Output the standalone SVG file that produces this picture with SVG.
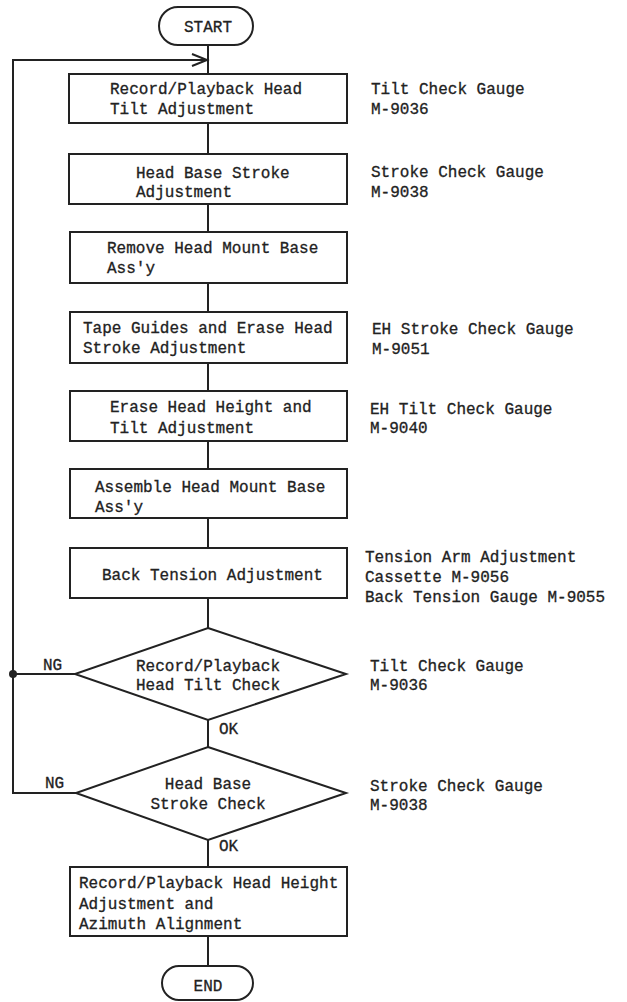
<svg xmlns="http://www.w3.org/2000/svg" width="627" height="1002" viewBox="0 0 627 1002">
<style>
.s{fill:#fff;stroke:#222;stroke-width:2}
.c{fill:none;stroke:#222;stroke-width:2}
text{font-family:"Liberation Mono","Courier New",monospace;font-size:16px;fill:#222;stroke:#222;stroke-width:0.3}
.m{text-anchor:middle}
</style>
<rect width="627" height="1002" fill="#fff"/>
<g id="connectors">
<path class="c" d="M208 45V74M208 123V154M208 204V232M208 283V312M208 363V391M208 441V469M208 518V548M208 598V628M208 720V747M208 840V867M208 936V966"/>
<path class="c" d="M76 793H13V60H207M76 674H13"/>
<path class="c" d="M192 54L207 60L192 66"/>
<circle cx="13" cy="674" r="4" fill="#222"/>
<text x="43" y="670">NG</text>
<text x="45" y="788">NG</text>
<text x="219" y="734">OK</text>
<text x="219" y="851">OK</text>
</g>
<g id="start"><rect class="s" x="159" y="7" width="94" height="38" rx="19"/><text class="m" x="208" y="32">START</text></g>
<g id="n1"><rect class="s" x="69" y="74" width="278" height="49"/><text x="110" y="94">Record/Playback Head</text><text x="110" y="114">Tilt Adjustment</text></g>
<g id="r1"><text x="371" y="94">Tilt Check Gauge</text><text x="371" y="114">M-9036</text></g>
<g id="n2"><rect class="s" x="69" y="154" width="278" height="50"/><text x="136" y="178">Head Base Stroke</text><text x="136" y="197">Adjustment</text></g>
<g id="r2"><text x="371" y="177">Stroke Check Gauge</text><text x="371" y="197">M-9038</text></g>
<g id="n3"><rect class="s" x="70" y="232" width="277" height="51"/><text x="107" y="253">Remove Head Mount Base</text><text x="107" y="273">Ass'y</text></g>
<g id="n4"><rect class="s" x="70" y="312" width="277" height="51"/><text x="83" y="333">Tape Guides and Erase Head</text><text x="83" y="353">Stroke Adjustment</text></g>
<g id="r4"><text x="372" y="334">EH Stroke Check Gauge</text><text x="372" y="354">M-9051</text></g>
<g id="n5"><rect class="s" x="70" y="391" width="277" height="50"/><text x="110" y="412">Erase Head Height and</text><text x="110" y="433">Tilt Adjustment</text></g>
<g id="r5"><text x="370" y="414">EH Tilt Check Gauge</text><text x="370" y="433">M-9040</text></g>
<g id="n6"><rect class="s" x="70" y="469" width="277" height="49"/><text x="95" y="492">Assemble Head Mount Base</text><text x="95" y="512">Ass'y</text></g>
<g id="n7"><rect class="s" x="70" y="548" width="277" height="50"/><text x="102" y="580">Back Tension Adjustment</text></g>
<g id="r7"><text x="365" y="562">Tension Arm Adjustment</text><text x="365" y="582">Cassette M-9056</text><text x="365" y="602">Back Tension Gauge M-9055</text></g>
<g id="d1"><polygon class="s" points="208,628 346,674 208,720 75,674"/><text class="m" x="208" y="671">Record/Playback</text><text class="m" x="208" y="690">Head Tilt Check</text></g>
<g id="r8"><text x="370" y="671">Tilt Check Gauge</text><text x="370" y="690">M-9036</text></g>
<g id="d2"><polygon class="s" points="208,747 346,793 208,840 76,793"/><text class="m" x="208" y="789">Head Base</text><text class="m" x="208" y="809">Stroke Check</text></g>
<g id="r9"><text x="370" y="791">Stroke Check Gauge</text><text x="370" y="810">M-9038</text></g>
<g id="n8"><rect class="s" x="70" y="867" width="277" height="69"/><text x="79" y="888">Record/Playback Head Height</text><text x="79" y="909">Adjustment and</text><text x="79" y="929">Azimuth Alignment</text></g>
<g id="end"><rect class="s" x="162" y="966" width="91" height="34" rx="17"/><text class="m" x="208" y="991">END</text></g>
</svg>
